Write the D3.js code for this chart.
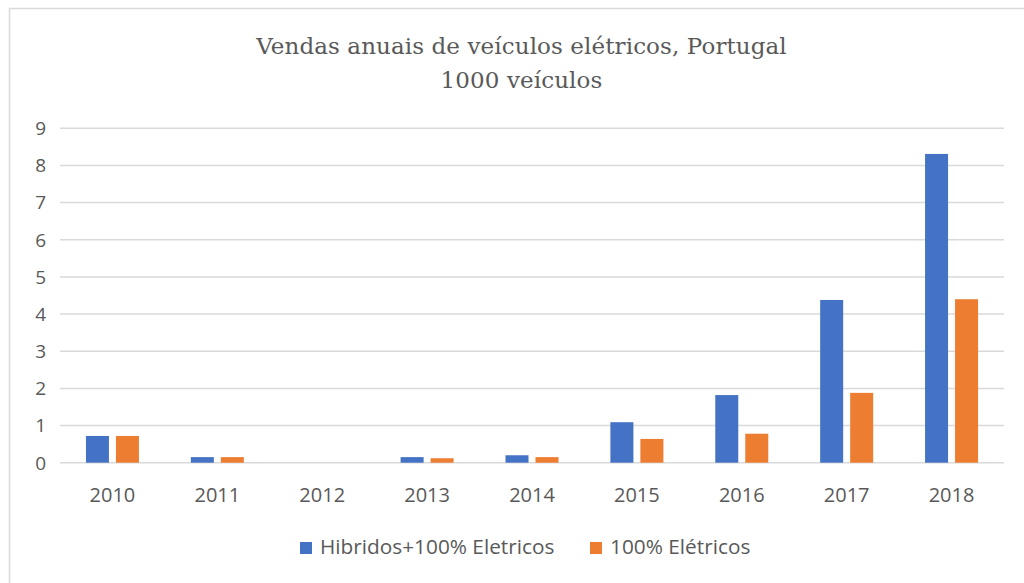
<!DOCTYPE html>
<html><head><meta charset="utf-8">
<script src="https://cdn.jsdelivr.net/npm/d3@7"></script>
<style>body{margin:0;background:#fff}svg{display:block}</style>
</head><body>
<script>
const years = ["2010","2011","2012","2013","2014","2015","2016","2017","2018"];
const hibridos = [0.72,0.15,0,0.15,0.2,1.09,1.82,4.38,8.31];
const eletricos = [0.72,0.15,0,0.12,0.15,0.64,0.78,1.88,4.40];
const seriesNames = ["Hibridos+100% Eletricos","100% Elétricos"];
const colors = ["#4472C4","#ED7D31"];
const yTicks = [0,1,2,3,4,5,6,7,8,9];
const titleLines = ["Vendas anuais de veículos elétricos, Portugal","1000 veículos"];

const W=1024,H=583;
const svg=d3.select("body").append("svg").attr("width",W).attr("height",H);
svg.append("rect").attr("x",9.5).attr("y",8.5).attr("width",W+10).attr("height",H+10)
  .attr("fill","#fff").attr("stroke","#d9d9d9").attr("stroke-width",1.5);

const m={l:60,r:1004,t:128.3,b:462.7};
const x=d3.scaleBand().domain(years).range([m.l,m.r]).paddingInner(0).paddingOuter(0);
const y=d3.scaleLinear().domain([0,9]).range([m.b,m.t]);
const barW=23, gap=7;

svg.append("g").selectAll("line").data(yTicks).join("line")
  .attr("x1",m.l).attr("x2",m.r).attr("y1",d=>y(d)).attr("y2",d=>y(d))
  .attr("stroke","#d9d9d9").attr("stroke-width",1.5);

const font="'Open Sans', Lato, sans-serif";
svg.append("g").selectAll("text").data(yTicks).join("text")
  .attr("x",46).attr("y",d=>y(d)).attr("dy","0.36em").attr("text-anchor","end")
  .attr("font-family",font).attr("font-size",19).attr("fill","#595959").text(d=>d);

svg.append("g").selectAll("text").data(years).join("text")
  .attr("x",d=>x(d)+x.bandwidth()/2).attr("y",502).attr("text-anchor","middle")
  .attr("font-family",font).attr("font-size",20).attr("fill","#595959").text(d=>d);

const series=[hibridos,eletricos];
series.forEach((vals,si)=>{
  svg.append("g").selectAll("rect").data(years).join("rect")
    .attr("x",(d,i)=>x(d)+x.bandwidth()/2 + (si===0? -gap/2-barW : gap/2))
    .attr("y",(d,i)=>y(vals[i]))
    .attr("width",barW)
    .attr("height",(d,i)=>y(0)-y(vals[i]))
    .attr("fill",colors[si]);
});

svg.append("g").selectAll("text").data(titleLines).join("text")
  .attr("x",521.5).attr("y",(d,i)=>53.5+i*34).attr("text-anchor","middle")
  .attr("font-family","'DejaVu Serif', 'Liberation Serif', serif").attr("font-size",23)
  .attr("letter-spacing",0.1)
  .attr("fill","#595959").text(d=>d);

const legX=[300,590];
seriesNames.forEach((n,i)=>{
  svg.append("rect").attr("x",legX[i]).attr("y",542).attr("width",12).attr("height",12).attr("fill",colors[i]);
  svg.append("text").attr("x",legX[i]+20).attr("y",554).attr("font-family",font).attr("font-size",20.8)
    .attr("fill","#595959").text(n);
});
</script>
</body></html>
